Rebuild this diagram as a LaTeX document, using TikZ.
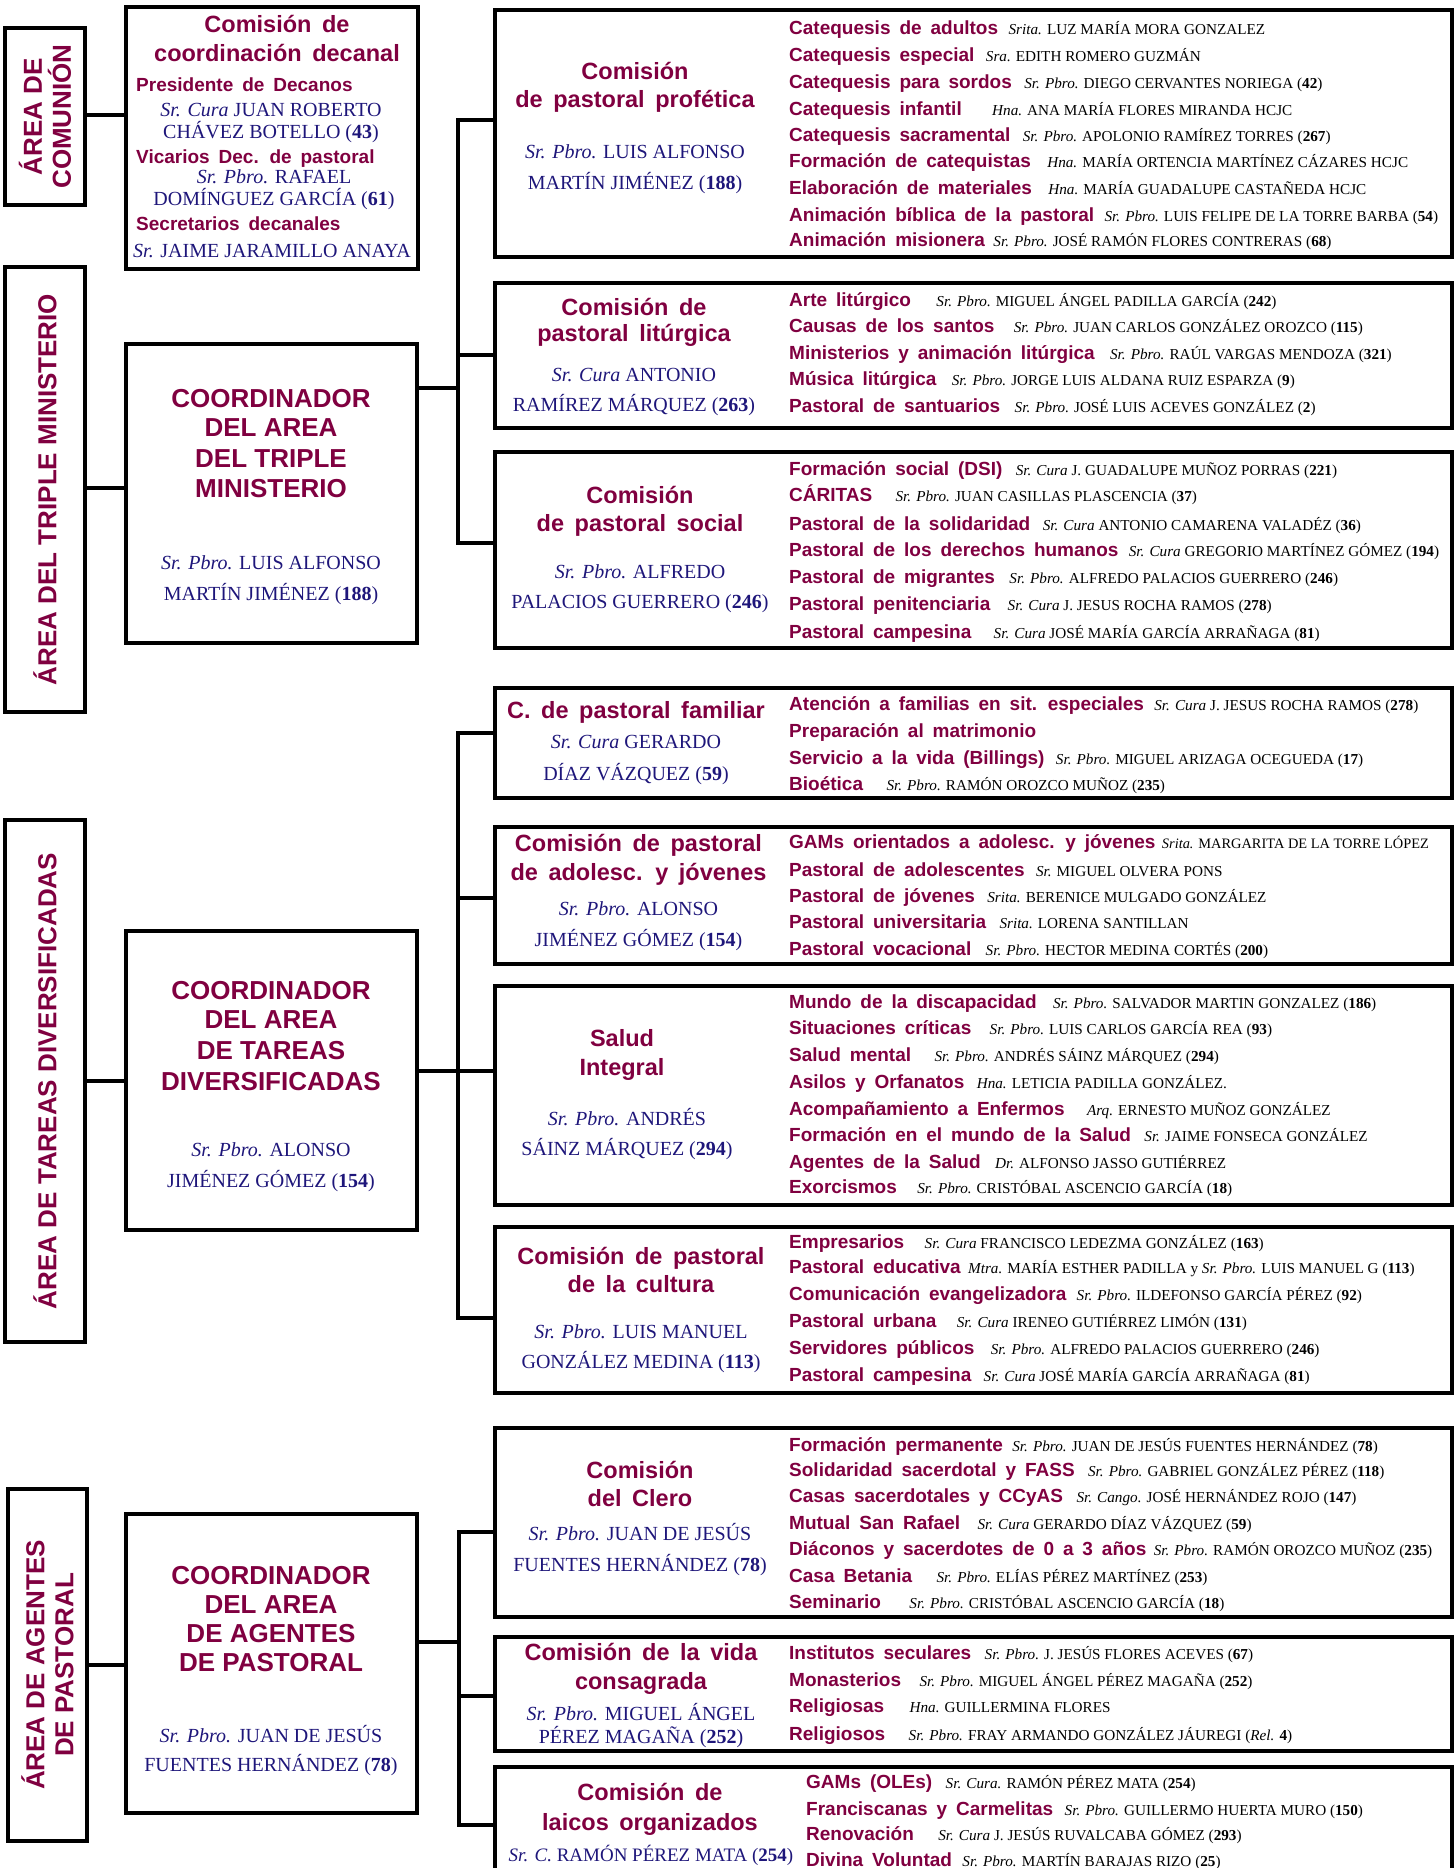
\documentclass[tikz,border=0pt]{standalone}
\usepackage{fontspec}
\setmainfont{Liberation Serif}
\newfontfamily\hsans{Liberation Sans}
\newfontfamily\csans{Liberation Sans}
\definecolor{mrn}{RGB}{128,0,64}
\definecolor{nvy}{RGB}{30,22,122}
\newcommand\ftit{\hsans\bfseries\fontsize{23.5}{26}\selectfont\spaceskip=0.45em\relax\color{mrn}}
\newcommand\fitm{\hsans\bfseries\fontsize{19}{22}\selectfont\spaceskip=0.47em\relax\color{mrn}}
\newcommand\fper{\rmfamily\fontsize{15.2}{18}\selectfont\color{black}}
\newcommand\flead{\rmfamily\fontsize{20}{24}\selectfont\color{nvy}}
\newcommand\fcoord{\csans\bfseries\fontsize{26}{29}\selectfont\color{mrn}}
\newcommand\ritm[5]{\node[itm] (#1) at (\rx,#2) {#3};\node[per] (#1n) at ([xshift=#4pt]#1.base east) {#5};}
\newcommand\bxn[5]{\node[bx,minimum width=#4pt,minimum height=#5pt,anchor=north west] (#1) at (#2,#3) {};}
\begin{document}
\begin{tikzpicture}[x=1pt,y=-1pt,
  bx/.style={draw,line width=3.4pt,inner sep=0pt,outer sep=0pt},
  ln/.style={draw,line width=3.4pt},
  tit/.style={inner sep=0pt,anchor=base,font=\ftit},
  itm/.style={inner sep=0pt,anchor=base west,font=\fitm},
  per/.style={inner sep=0pt,anchor=base west,font=\fper},
  lead/.style={inner sep=0pt,anchor=base,font=\flead},
  crd/.style={inner sep=0pt,anchor=base,font=\fcoord},
  area/.style={inner sep=0pt,rotate=90,align=center,font=\fcoord}]
\useasboundingbox (0,0) rectangle (1455,1868);
\clip (0,0) rectangle (1455,1868);
% ---------- boxes ----------
\bxn{a1}{5}{28}{80}{177}
\bxn{a2}{5}{267}{80}{445}
\bxn{a3}{5}{820}{80}{522}
\bxn{a4}{8}{1489}{79}{352}
\bxn{dec}{126}{7}{292}{262}
\bxn{c1}{126}{344}{291}{299}
\bxn{c2}{126}{931}{291}{299}
\bxn{c3}{126}{1514}{291}{299}
\bxn{prof}{495}{10}{957}{247}
\bxn{lit}{495}{283}{957}{145}
\bxn{soc}{495}{452}{957}{196}
\bxn{fam}{495}{688}{957}{110}
\bxn{ado}{495}{827}{957}{137}
\bxn{sal}{495}{986}{957}{219}
\bxn{cul}{495}{1227}{957}{166}
\bxn{cle}{495}{1428}{957}{189}
\bxn{vid}{495}{1637}{957}{114}
\bxn{lai}{495}{1767}{957}{200}
% ---------- connectors ----------
\coordinate (k1) at (0,115);
\coordinate (k2) at (0,488);
\coordinate (k3) at (0,1081);
\coordinate (k4) at (0,1665);
\draw[ln] (a1.east|-k1) -- (dec.west|-k1);
\draw[ln] (a2.east|-k2) -- (c1.west|-k2);
\draw[ln] (a3.east|-k3) -- (c2.west|-k3);
\draw[ln] (a4.east|-k4) -- (c3.west|-k4);
\coordinate (t1) at (458,120);
\coordinate (b1) at (458,543);
\coordinate (j1) at (458,388);
\coordinate (m1) at (458,355);
\draw[ln] (prof.west|-t1) -- (t1) -- (b1) -- (soc.west|-b1);
\draw[ln] (c1.east|-j1) -- (j1);
\draw[ln] (m1) -- (lit.west|-m1);
\coordinate (t2) at (458,733);
\coordinate (b2) at (458,1318);
\coordinate (j2) at (458,1071);
\coordinate (m2) at (458,898);
\draw[ln] (fam.west|-t2) -- (t2) -- (b2) -- (cul.west|-b2);
\draw[ln] (c2.east|-j2) -- (sal.west|-j2);
\draw[ln] (m2) -- (ado.west|-m2);
\coordinate (t3) at (459,1532);
\coordinate (b3) at (459,1825);
\coordinate (j3) at (459,1642);
\coordinate (m3) at (459,1696);
\draw[ln] (cle.west|-t3) -- (t3) -- (b3) -- (lai.west|-b3);
\draw[ln] (c3.east|-j3) -- (j3);
\draw[ln] (m3) -- (vid.west|-m3);
% ---------- area labels ----------
\node[area] (a1t) at (a1.center) {ÁREA DE\\COMUNIÓN};
\node[area] (a2t) at (a2.center) {ÁREA DEL TRIPLE MINISTERIO};
\node[area] (a3t) at (a3.center) {ÁREA DE TAREAS DIVERSIFICADAS};
\node[area] (a4t) at (a4.center) {ÁREA DE AGENTES\\DE PASTORAL};
% ---------- decanal ----------
\node[tit] (d1) at (277,33) {Comisión de};
\node[tit] (d2) at (277,62) {coordinación decanal};
\node[itm] (d3) at (136,92) {Presidente de Decanos};
\node[lead] (d4) at (271,116) {\textit{Sr. Cura} JUAN ROBERTO};
\node[lead] (d5) at (271,138) {CHÁVEZ BOTELLO (\textbf{43})};
\node[itm] (d6) at (136,163) {Vicarios Dec. de pastoral};
\node[lead] (d7) at (274,183) {\textit{Sr. Pbro.} RAFAEL};
\node[lead] (d8) at (274,205) {DOMÍNGUEZ GARCÍA (\textbf{61})};
\node[itm] (d9) at (136,230) {Secretarios decanales};
\node[lead] (d10) at (272,257) {\textit{Sr.} JAIME JARAMILLO ANAYA};
% ---------- coordinators ----------
\node[crd] (c1a) at (271,407) {COORDINADOR};
\node[crd] (c1b) at (271,436) {DEL AREA};
\node[crd] (c1c) at (271,467) {DEL TRIPLE};
\node[crd] (c1d) at (271,497) {MINISTERIO};
\node[lead] (c1e) at (271,569) {\textit{Sr. Pbro.} LUIS ALFONSO};
\node[lead] (c1f) at (271,600) {MARTÍN JIMÉNEZ (\textbf{188})};
\node[crd] (c2a) at (271,999) {COORDINADOR};
\node[crd] (c2b) at (271,1028) {DEL AREA};
\node[crd] (c2c) at (271,1059) {DE TAREAS};
\node[crd] (c2d) at (271,1090) {DIVERSIFICADAS};
\node[lead] (c2e) at (271,1156) {\textit{Sr. Pbro.} ALONSO};
\node[lead] (c2f) at (271,1187) {JIMÉNEZ GÓMEZ (\textbf{154})};
\node[crd] (c3a) at (271,1584) {COORDINADOR};
\node[crd] (c3b) at (271,1613) {DEL AREA};
\node[crd] (c3c) at (271,1642) {DE AGENTES};
\node[crd] (c3d) at (271,1671) {DE PASTORAL};
\node[lead] (c3e) at (271,1742) {\textit{Sr. Pbro.} JUAN DE JESÚS};
\node[lead] (c3f) at (271,1771) {FUENTES HERNÁNDEZ (\textbf{78})};
% ---------- profética ----------
\def\rx{789}
\node[tit] (pr1) at (635,79) {Comisión};
\node[tit] (pr2) at (635,107) {de pastoral profética};
\node[lead] (pr3) at (635,158) {\textit{Sr. Pbro.} LUIS ALFONSO};
\node[lead] (pr4) at (635,189) {MARTÍN JIMÉNEZ (\textbf{188})};
\ritm{p1}{35}{Catequesis de adultos}{10}{\textit{Srita.} LUZ MARÍA MORA GONZALEZ}
\ritm{p2}{61.7}{Catequesis especial}{11}{\textit{Sra.} EDITH ROMERO GUZMÁN}
\ritm{p3}{88.3}{Catequesis para sordos}{12}{\textit{Sr. Pbro.} DIEGO CERVANTES NORIEGA (\textbf{42})}
\ritm{p4}{115}{Catequesis infantil}{30}{\textit{Hna.} ANA MARÍA FLORES MIRANDA HCJC}
\ritm{p5}{141.7}{Catequesis sacramental}{12}{\textit{Sr. Pbro.} APOLONIO RAMÍREZ TORRES (\textbf{267})}
\ritm{p6}{167.7}{Formación de catequistas}{16}{\textit{Hna.} MARÍA ORTENCIA MARTÍNEZ CÁZARES HCJC}
\ritm{p7}{194.3}{Elaboración de materiales}{16}{\textit{Hna.} MARÍA GUADALUPE CASTAÑEDA HCJC}
\ritm{p8}{221}{Animación bíblica de la pastoral}{10}{\textit{Sr. Pbro.} LUIS FELIPE DE LA TORRE BARBA (\textbf{54})}
\ritm{p9}{246.7}{Animación misionera}{8}{\textit{Sr. Pbro.} JOSÉ RAMÓN FLORES CONTRERAS (\textbf{68})}
% ---------- litúrgica ----------
\node[tit] (li1) at (634,315) {Comisión de};
\node[tit] (li2) at (634,341.7) {pastoral litúrgica};
\node[lead] (li3) at (634,381) {\textit{Sr. Cura} ANTONIO};
\node[lead] (li4) at (634,411.7) {RAMÍREZ MÁRQUEZ (\textbf{263})};
\ritm{l1}{306.5}{Arte litúrgico}{25}{\textit{Sr. Pbro.} MIGUEL ÁNGEL PADILLA GARCÍA (\textbf{242})}
\ritm{l2}{332.5}{Causas de los santos}{19}{\textit{Sr. Pbro.} JUAN CARLOS GONZÁLEZ OROZCO (\textbf{115})}
\ritm{l3}{359}{Ministerios y animación litúrgica}{15}{\textit{Sr. Pbro.} RAÚL VARGAS MENDOZA (\textbf{321})}
\ritm{l4}{385.5}{Música litúrgica}{15}{\textit{Sr. Pbro.} JORGE LUIS ALDANA RUIZ ESPARZA (\textbf{9})}
\ritm{l5}{412}{Pastoral de santuarios}{14}{\textit{Sr. Pbro.} JOSÉ LUIS ACEVES GONZÁLEZ (\textbf{2})}
% ---------- social ----------
\node[tit] (so1) at (640,503) {Comisión};
\node[tit] (so2) at (640,531.7) {de pastoral social};
\node[lead] (so3) at (640,578) {\textit{Sr. Pbro.} ALFREDO};
\node[lead] (so4) at (640,608) {PALACIOS GUERRERO (\textbf{246})};
\ritm{s1}{475}{Formación social (DSI)}{13}{\textit{Sr. Cura} J. GUADALUPE MUÑOZ PORRAS (\textbf{221})}
\ritm{s2}{501.7}{CÁRITAS}{23}{\textit{Sr. Pbro.} JUAN CASILLAS PLASCENCIA (\textbf{37})}
\ritm{s3}{530}{Pastoral de la solidaridad}{12}{\textit{Sr. Cura} ANTONIO CAMARENA VALADÉZ (\textbf{36})}
\ritm{s4}{556.7}{Pastoral de los derechos humanos}{10}{\textit{Sr. Cura} GREGORIO MARTÍNEZ GÓMEZ (\textbf{194})}
\ritm{s5}{583.3}{Pastoral de migrantes}{14}{\textit{Sr. Pbro.} ALFREDO PALACIOS GUERRERO (\textbf{246})}
\ritm{s6}{610}{Pastoral penitenciaria}{17}{\textit{Sr. Cura} J. JESUS ROCHA RAMOS (\textbf{278})}
\ritm{s7}{638.3}{Pastoral campesina}{22}{\textit{Sr. Cura} JOSÉ MARÍA GARCÍA ARRAÑAGA (\textbf{81})}
% ---------- familiar ----------
\node[tit] (fa1) at (636,718) {C. de pastoral familiar};
\node[lead] (fa2) at (636,748) {\textit{Sr. Cura} GERARDO};
\node[lead] (fa3) at (636,780) {DÍAZ VÁZQUEZ (\textbf{59})};
\ritm{f1}{710}{Atención a familias en sit. especiales}{10}{\textit{Sr. Cura} J. JESUS ROCHA RAMOS (\textbf{278})}
\node[itm] (f2) at (\rx,737) {Preparación al matrimonio};
\ritm{f3}{764}{Servicio a la vida (Billings)}{11}{\textit{Sr. Pbro.} MIGUEL ARIZAGA OCEGUEDA (\textbf{17})}
\ritm{f4}{790.7}{Bioética}{23}{\textit{Sr. Pbro.} RAMÓN OROZCO MUÑOZ (\textbf{235})}
% ---------- adolescentes ----------
\node[tit] (ad1) at (638.5,851.7) {Comisión de pastoral};
\node[tit] (ad2) at (638.5,880) {de adolesc. y jóvenes};
\node[lead] (ad3) at (638.5,915) {\textit{Sr. Pbro.} ALONSO};
\node[lead] (ad4) at (638.5,946) {JIMÉNEZ GÓMEZ (\textbf{154})};
\ritm{o1}{848}{GAMs orientados a adolesc. y jóvenes}{6}{\fontsize{14.4}{17}\selectfont\textit{Srita.} MARGARITA DE LA TORRE LÓPEZ}
\ritm{o2}{876}{Pastoral de adolescentes}{11}{\textit{Sr.} MIGUEL OLVERA PONS}
\ritm{o3}{902.7}{Pastoral de jóvenes}{12}{\textit{Srita.} BERENICE MULGADO GONZÁLEZ}
\ritm{o4}{928.3}{Pastoral universitaria}{13}{\textit{Srita.} LORENA SANTILLAN}
\ritm{o5}{955}{Pastoral vocacional}{14}{\textit{Sr. Pbro.} HECTOR MEDINA CORTÉS (\textbf{200})}
% ---------- salud ----------
\node[tit] (sa1) at (622,1046) {Salud};
\node[tit] (sa2) at (622,1075) {Integral};
\node[lead] (sa3) at (627,1125.7) {\textit{Sr. Pbro.} ANDRÉS};
\node[lead] (sa4) at (627,1155.7) {SÁINZ MÁRQUEZ (\textbf{294})};
\ritm{h1}{1008}{Mundo de la discapacidad}{16}{\textit{Sr. Pbro.} SALVADOR MARTIN GONZALEZ (\textbf{186})}
\ritm{h2}{1034}{Situaciones críticas}{18}{\textit{Sr. Pbro.} LUIS CARLOS GARCÍA REA (\textbf{93})}
\ritm{h3}{1061.7}{Salud mental}{23}{\textit{Sr. Pbro.} ANDRÉS SÁINZ MÁRQUEZ (\textbf{294})}
\ritm{h4}{1088.3}{Asilos y Orfanatos}{12}{\textit{Hna.} LETICIA PADILLA GONZÁLEZ.}
\ritm{h5}{1115}{Acompañamiento a Enfermos}{22}{\textit{Arq.} ERNESTO MUÑOZ GONZÁLEZ}
\ritm{h6}{1141.7}{Formación en el mundo de la Salud}{13}{\textit{Sr.} JAIME FONSECA GONZÁLEZ}
\ritm{h7}{1168.3}{Agentes de la Salud}{14}{\textit{Dr.} ALFONSO JASSO GUTIÉRREZ}
\ritm{h8}{1193.3}{Exorcismos}{20}{\textit{Sr. Pbro.} CRISTÓBAL ASCENCIO GARCÍA (\textbf{18})}
% ---------- cultura ----------
\node[tit] (cu1) at (641,1264) {Comisión de pastoral};
\node[tit] (cu2) at (641,1292.7) {de la cultura};
\node[lead] (cu3) at (641,1338) {\textit{Sr. Pbro.} LUIS MANUEL};
\node[lead] (cu4) at (641,1368) {GONZÁLEZ MEDINA (\textbf{113})};
\ritm{u1}{1248}{Empresarios}{20}{\textit{Sr. Cura} FRANCISCO LEDEZMA GONZÁLEZ (\textbf{163})}
\ritm{u2}{1273}{Pastoral educativa}{7}{\textit{Mtra.} MARÍA ESTHER PADILLA y \textit{Sr. Pbro.} LUIS MANUEL G (\textbf{113})}
\ritm{u3}{1300.7}{Comunicación evangelizadora}{10}{\textit{Sr. Pbro.} ILDEFONSO GARCÍA PÉREZ (\textbf{92})}
\ritm{u4}{1327}{Pastoral urbana}{20}{\textit{Sr. Cura} IRENEO GUTIÉRREZ LIMÓN (\textbf{131})}
\ritm{u5}{1354}{Servidores públicos}{16}{\textit{Sr. Pbro.} ALFREDO PALACIOS GUERRERO (\textbf{246})}
\ritm{u6}{1381.7}{Pastoral campesina}{12}{\textit{Sr. Cura} JOSÉ MARÍA GARCÍA ARRAÑAGA (\textbf{81})}
% ---------- clero ----------
\node[tit] (cl1) at (640,1478) {Comisión};
\node[tit] (cl2) at (640,1506.7) {del Clero};
\node[lead] (cl3) at (640,1540.7) {\textit{Sr. Pbro.} JUAN DE JESÚS};
\node[lead] (cl4) at (640,1571.7) {FUENTES HERNÁNDEZ (\textbf{78})};
\ritm{e1}{1451.7}{Formación permanente}{9}{\textit{Sr. Pbro.} JUAN DE JESÚS FUENTES HERNÁNDEZ (\textbf{78})}
\ritm{e2}{1476.7}{Solidaridad sacerdotal y FASS}{13}{\textit{Sr. Pbro.} GABRIEL GONZÁLEZ PÉREZ (\textbf{118})}
\ritm{e3}{1502.7}{Casas sacerdotales y CCyAS}{13}{\textit{Sr. Cango.} JOSÉ HERNÁNDEZ ROJO (\textbf{147})}
\ritm{e4}{1529.3}{Mutual San Rafael}{17}{\textit{Sr. Cura} GERARDO DÍAZ VÁZQUEZ (\textbf{59})}
\ritm{e5}{1555}{Diáconos y sacerdotes de 0 a 3 años}{7}{\textit{Sr. Pbro.} RAMÓN OROZCO MUÑOZ (\textbf{235})}
\ritm{e6}{1582.7}{Casa Betania}{24}{\textit{Sr. Pbro.} ELÍAS PÉREZ MARTÍNEZ (\textbf{253})}
\ritm{e7}{1608.3}{Seminario}{28}{\textit{Sr. Pbro.} CRISTÓBAL ASCENCIO GARCÍA (\textbf{18})}
% ---------- vida consagrada ----------
\node[tit] (vi1) at (641,1660.7) {Comisión de la vida};
\node[tit] (vi2) at (641,1689) {consagrada};
\node[lead] (vi3) at (641,1720) {\textit{Sr. Pbro.} MIGUEL ÁNGEL};
\node[lead] (vi4) at (641,1743) {PÉREZ MAGAÑA (\textbf{252})};
\ritm{v1}{1659.3}{Institutos seculares}{13}{\textit{Sr. Pbro.} J. JESÚS FLORES ACEVES (\textbf{67})}
\ritm{v2}{1686.7}{Monasterios}{18}{\textit{Sr. Pbro.} MIGUEL ÁNGEL PÉREZ MAGAÑA (\textbf{252})}
\ritm{v3}{1712.7}{Religiosas}{25}{\textit{Hna.} GUILLERMINA FLORES}
\ritm{v4}{1740.7}{Religiosos}{23}{\textit{Sr. Pbro.} FRAY ARMANDO GONZÁLEZ JÁUREGI (\textit{Rel.} \textbf{4})}
% ---------- laicos ----------
\def\rx{806}
\node[tit] (la1) at (650,1800) {Comisión de};
\node[tit] (la2) at (650,1830) {laicos organizados};
\node[lead,font=\flead\fontsize{19}{22}\selectfont] (la3) at (651,1861.7) {\textit{Sr. C.} RAMÓN PÉREZ MATA (\textbf{254})};
\ritm{g1}{1788.3}{GAMs (OLEs)}{13}{\textit{Sr. Cura.} RAMÓN PÉREZ MATA (\textbf{254})}
\ritm{g2}{1815}{Franciscanas y Carmelitas}{11}{\textit{Sr. Pbro.} GUILLERMO HUERTA MURO (\textbf{150})}
\ritm{g3}{1840.7}{Renovación}{24}{\textit{Sr. Cura} J. JESÚS RUVALCABA GÓMEZ (\textbf{293})}
\ritm{g4}{1866.7}{Divina Voluntad}{10}{\textit{Sr. Pbro.} MARTÍN BARAJAS RIZO (\textbf{25})}
\end{tikzpicture}
\end{document}
